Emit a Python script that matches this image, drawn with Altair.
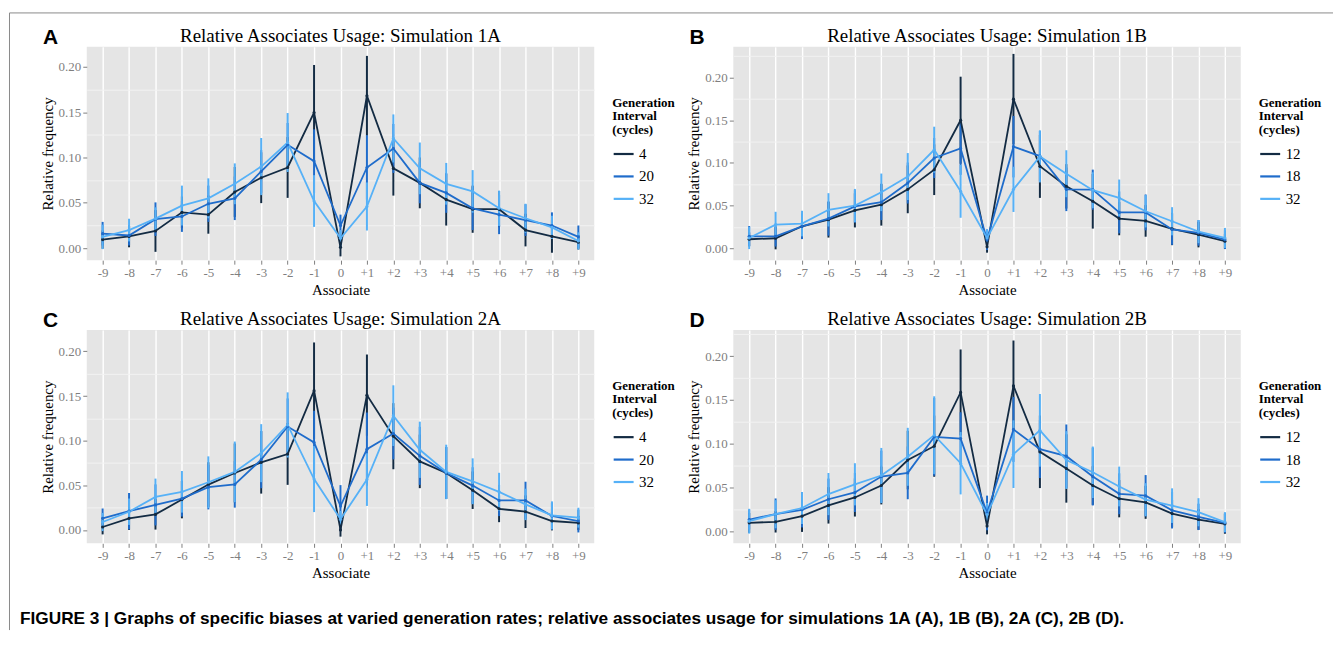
import altair as alt
import pandas as pd

associates = ["-9", "-8", "-7", "-6", "-5", "-4", "-3", "-2", "-1", "0",
              "+1", "+2", "+3", "+4", "+5", "+6", "+7", "+8", "+9"]
colors = ["#132B43", "#1F6CCB", "#56B1F7"]
labels_A = ["4", "20", "32"]
labels_B = ["12", "18", "32"]
major_ticks = [0.0, 0.05, 0.10, 0.15, 0.20]
minor_ticks = [0.025, 0.075, 0.125, 0.175, 0.225]

# ---- Simulation 1A ----
s1a_mean_4 = [0.0095, 0.013, 0.019, 0.0395, 0.037, 0.062, 0.0777, 0.089, 0.1495, 0.001,
              0.168, 0.088, 0.072, 0.0535, 0.043, 0.043, 0.020, 0.013, 0.0066]
s1a_err_4 = [0.010, 0.012, 0.023, 0.0175, 0.021, 0.0275, 0.028, 0.0335, 0.0525, 0.010,
             0.044, 0.030, 0.028, 0.0285, 0.026, 0.020, 0.018, 0.018, 0.008]
s1a_mean_20 = [0.016, 0.014, 0.032, 0.035, 0.049, 0.055, 0.0846, 0.114, 0.096, 0.025,
               0.089, 0.110, 0.072, 0.061, 0.044, 0.037, 0.031, 0.025, 0.0125]
s1a_err_20 = [0.013, 0.011, 0.0185, 0.017, 0.020, 0.024, 0.0235, 0.024, 0.035, 0.012,
              0.0355, 0.027, 0.0225, 0.022, 0.024, 0.0215, 0.0175, 0.0145, 0.0125]
s1a_mean_32 = [0.0125, 0.020, 0.0326, 0.047, 0.055, 0.071, 0.090, 0.1165, 0.052, 0.011,
               0.046, 0.121, 0.088, 0.071, 0.0626, 0.044, 0.033, 0.023, 0.008]
s1a_err_32 = [0.0135, 0.0125, 0.0125, 0.022, 0.022, 0.0225, 0.0315, 0.0325, 0.0285, 0.009,
              0.0265, 0.0265, 0.0285, 0.023, 0.0235, 0.0195, 0.016, 0.0128, 0.0095]

# ---- Simulation 1B ----
s1b_mean_12 = [0.0105, 0.0117, 0.0257, 0.0335, 0.0444, 0.051, 0.069, 0.092, 0.150, 0.0016,
               0.1747, 0.096, 0.0725, 0.055, 0.0347, 0.032, 0.0226, 0.016, 0.0082]
s1b_err_12 = [0.008, 0.013, 0.0145, 0.021, 0.020, 0.0245, 0.028, 0.0297, 0.051, 0.0068,
              0.053, 0.037, 0.026, 0.032, 0.0195, 0.0185, 0.019, 0.015, 0.0085]
s1b_mean_18 = [0.014, 0.014, 0.0257, 0.0347, 0.049, 0.054, 0.0764, 0.1057, 0.117, 0.010,
               0.119, 0.108, 0.069, 0.0686, 0.042, 0.042, 0.022, 0.018, 0.010]
s1b_err_18 = [0.012, 0.012, 0.015, 0.020, 0.019, 0.021, 0.024, 0.0235, 0.031, 0.012,
              0.036, 0.0295, 0.0255, 0.0235, 0.0245, 0.021, 0.018, 0.015, 0.011]
s1b_mean_32 = [0.012, 0.0277, 0.0289, 0.045, 0.050, 0.0655, 0.084, 0.1154, 0.0667, 0.012,
               0.069, 0.1076, 0.0873, 0.068, 0.059, 0.0433, 0.0316, 0.0195, 0.012]
s1b_err_32 = [0.013, 0.015, 0.015, 0.0195, 0.0195, 0.022, 0.0275, 0.027, 0.031, 0.0098,
              0.0265, 0.0305, 0.0275, 0.021, 0.0215, 0.019, 0.0165, 0.0136, 0.0117]

# ---- Simulation 2A ----
s2a_mean_4 = [0.0033, 0.013, 0.0174, 0.034, 0.0508, 0.0638, 0.0757, 0.085, 0.156, 0.0,
              0.151, 0.105, 0.0768, 0.0638, 0.0445, 0.0237, 0.0204, 0.010, 0.0078]
s2a_err_4 = [0.0083, 0.013, 0.017, 0.021, 0.025, 0.033, 0.035, 0.0345, 0.054, 0.0075,
             0.0455, 0.037, 0.030, 0.029, 0.021, 0.015, 0.0183, 0.0105, 0.008]
s2a_mean_20 = [0.013, 0.021, 0.028, 0.035, 0.048, 0.051, 0.0787, 0.1158, 0.098, 0.0267,
               0.0905, 0.108, 0.083, 0.0638, 0.0497, 0.033, 0.033, 0.0156, 0.010]
s2a_err_20 = [0.011, 0.0204, 0.023, 0.020, 0.025, 0.026, 0.032, 0.0315, 0.0355, 0.0235,
              0.041, 0.029, 0.0325, 0.029, 0.0205, 0.0175, 0.021, 0.0152, 0.0128]
s2a_mean_32 = [0.0089, 0.0204, 0.037, 0.0427, 0.0534, 0.065, 0.086, 0.1176, 0.057, 0.012,
               0.0564, 0.128, 0.0898, 0.065, 0.0545, 0.0427, 0.0286, 0.0163, 0.0137]
s2a_err_32 = [0.0102, 0.0148, 0.0205, 0.0233, 0.029, 0.034, 0.0325, 0.0365, 0.037, 0.0093,
              0.0295, 0.034, 0.0315, 0.0305, 0.0257, 0.0213, 0.0176, 0.0157, 0.0111]

# ---- Simulation 2B ----
s2b_mean_12 = [0.0101, 0.0113, 0.0177, 0.030, 0.039, 0.0526, 0.0816, 0.0974, 0.1586, 0.0064,
               0.166, 0.091, 0.072, 0.0526, 0.0376, 0.0335, 0.0207, 0.0139, 0.009]
s2b_err_12 = [0.0113, 0.0122, 0.0179, 0.0207, 0.0217, 0.0215, 0.0333, 0.0348, 0.0489, 0.0094,
              0.0517, 0.0413, 0.0389, 0.022, 0.0212, 0.0188, 0.0156, 0.0117, 0.0113]
s2b_mean_18 = [0.0139, 0.020, 0.025, 0.037, 0.0447, 0.0628, 0.067, 0.108, 0.106, 0.0214,
               0.1165, 0.094, 0.086, 0.0628, 0.0432, 0.041, 0.0244, 0.0169, 0.0101]
s2b_err_18 = [0.0113, 0.0179, 0.0201, 0.0235, 0.0222, 0.0295, 0.030, 0.0442, 0.030, 0.0197,
              0.037, 0.0329, 0.0361, 0.0329, 0.0233, 0.0235, 0.0207, 0.015, 0.0113]
s2b_mean_32 = [0.012, 0.020, 0.027, 0.0429, 0.054, 0.064, 0.0853, 0.110, 0.078, 0.0195,
               0.0883, 0.1154, 0.0816, 0.0677, 0.0515, 0.0365, 0.0297, 0.0222, 0.011]
s2b_err_32 = [0.0141, 0.016, 0.0182, 0.024, 0.024, 0.0314, 0.033, 0.0442, 0.0355, 0.0132,
              0.0385, 0.0414, 0.0329, 0.0293, 0.0226, 0.0188, 0.0197, 0.016, 0.0113]

caption = ("FIGURE 3 | Graphs of specific biases at varied generation rates; relative associates "
           "usage for simulations 1A (A), 1B (B), 2A (C), 2B (D).")

SERIF = "Liberation Serif"
SANS = "Liberation Sans"
W, H = 509, 214


def panel(letter, title, labels, means, errs, ydomain, frame=False):
    rows = []
    for lab, m, e in zip(labels, means, errs):
        for a, mv, ev in zip(associates, m, e):
            rows.append({"assoc": a, "series": lab, "mean": mv,
                         "lo": mv - ev, "hi": mv + ev})
    df = pd.DataFrame(rows)
    yscale = alt.Scale(domain=ydomain, nice=False, zero=False)
    xenc = alt.X("assoc:N", sort=associates,
                 scale=alt.Scale(type="point", padding=0.6),
                 axis=alt.Axis(title="Associate", labelAngle=0, grid=True))
    yaxis = alt.Axis(title="Relative frequency", values=major_ticks, format=".2f")
    color = alt.Color(
        "series:N", sort=labels,
        scale=alt.Scale(domain=labels, range=colors),
        legend=alt.Legend(title=["Generation", "Interval", "(cycles)"],
                          orient="none", legendX=W + 18, legendY=50,
                          symbolType="stroke", symbolSize=400,
                          symbolStrokeWidth=2.2, rowPadding=2.5,
                          titlePadding=6, labelOffset=4,
                          titleFont=SERIF, titleFontSize=13, titleFontWeight="bold",
                          titleLineHeight=13.5, titleColor="black",
                          labelFont=SERIF, labelFontSize=15, labelColor="black"))
    base = alt.Chart(df)
    minor = base.mark_point(opacity=0).encode(
        x=xenc,
        y=alt.Y("mean:Q", scale=yscale,
                axis=alt.Axis(values=minor_ticks, grid=True, gridColor="#F2F2F2",
                              gridWidth=1, labels=False, ticks=False, domain=False,
                              title=None, orient="right")))
    rules = base.mark_rule(strokeWidth=2).encode(
        x=xenc, y=alt.Y("lo:Q", scale=yscale, axis=yaxis), y2="hi:Q", color=color)
    lines = base.mark_line(strokeWidth=1.8).encode(
        x=xenc, y=alt.Y("mean:Q", scale=yscale, axis=yaxis), color=color)
    pts = base.mark_circle(size=10, opacity=1).encode(
        x=xenc, y=alt.Y("mean:Q", scale=yscale, axis=yaxis), color=color)
    tag = alt.Chart(pd.DataFrame({"t": [letter]})).mark_text(
        font=SANS, fontWeight="bold", fontSize=21, align="left",
        baseline="middle", color="black").encode(
        text="t:N", x=alt.value(-44), y=alt.value(-9))
    head = alt.Chart(pd.DataFrame({"t": [title]})).mark_text(
        font=SERIF, fontSize=19, align="center", baseline="alphabetic",
        color="black").encode(text="t:N", x=alt.value(W / 2), y=alt.value(-5))
    layers = [rules, lines, pts, tag, head]
    if frame:
        # thin page frame (top and left edges) of the original figure
        top = alt.Chart(pd.DataFrame({"k": [0]})).mark_rule(
            color="#8A8A8A", strokeWidth=1).encode(
            x=alt.value(-77.5), x2=alt.value(1250), y=alt.value(-34))
        left = alt.Chart(pd.DataFrame({"k": [0]})).mark_rule(
            color="#8A8A8A", strokeWidth=1).encode(
            x=alt.value(-77.5), y=alt.value(-34), y2=alt.value(585))
        layers += [top, left]
    main = alt.layer(*layers)
    return alt.layer(minor, main).resolve_axis(y="independent").properties(
        width=W, height=H)


pA = panel("A", "Relative Associates Usage: Simulation 1A", labels_A,
           [s1a_mean_4, s1a_mean_20, s1a_mean_32], [s1a_err_4, s1a_err_20, s1a_err_32],
           [-0.0132, 0.222], frame=True)
pB = panel("B", "Relative Associates Usage: Simulation 1B", labels_B,
           [s1b_mean_12, s1b_mean_18, s1b_mean_32], [s1b_err_12, s1b_err_18, s1b_err_32],
           [-0.014, 0.236])
pC = panel("C", "Relative Associates Usage: Simulation 2A", labels_A,
           [s2a_mean_4, s2a_mean_20, s2a_mean_32], [s2a_err_4, s2a_err_20, s2a_err_32],
           [-0.015, 0.224])
pD = panel("D", "Relative Associates Usage: Simulation 2B", labels_B,
           [s2b_mean_12, s2b_mean_18, s2b_mean_32], [s2b_err_12, s2b_err_18, s2b_err_32],
           [-0.0132, 0.2297])

chart = alt.concat(pA, pB, pC, pD, columns=2, spacing={"row": 70, "column": 139.5},
                   bounds="flush").resolve_scale(color="independent").properties(
    title=alt.TitleParams(caption, orient="bottom", anchor="start", font=SANS,
                          fontSize=17.3, fontWeight="bold", color="black", offset=-21, dx=11),
    padding={"left": 1, "top": 3, "right": 0, "bottom": 0},
    background="white",
).configure_view(fill="#E5E5E5", stroke=None).configure_axis(
    labelFont=SERIF, labelFontSize=13, labelColor="#7F7F7F",
    titleFont=SERIF, titleFontSize=15, titleFontWeight="normal", titleColor="black",
    tickColor="#7F7F7F", tickSize=4, domain=False, gridColor="white", gridWidth=1.4,
    labelPadding=2, titlePadding=3
)

chart.save("out.html", embed_options={"renderer": "svg", "actions": False})
